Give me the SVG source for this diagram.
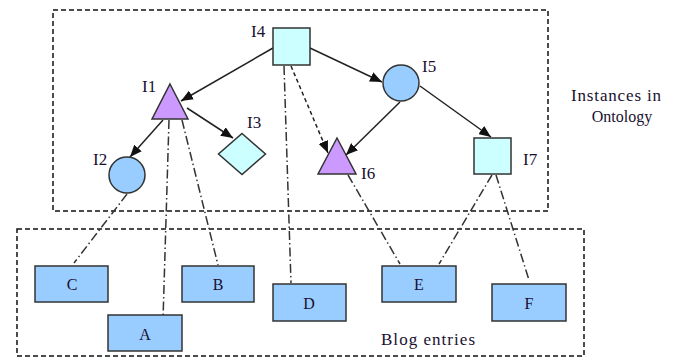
<svg xmlns="http://www.w3.org/2000/svg" width="683" height="358" viewBox="0 0 683 358">
<style>
text{font-family:"Liberation Serif",serif;fill:#1a1030}
.lbl{font-size:17px}
.box{fill:#99ccff;stroke:#333;stroke-width:1.5}
.sq{fill:#ccffff;stroke:#333;stroke-width:1.5}
.tri{fill:#cc99ff;stroke:#333;stroke-width:1.5}
.cir{fill:#99ccff;stroke:#333;stroke-width:1.5}
.group{fill:none;stroke:#111;stroke-width:1.5;stroke-dasharray:5 3}
.arrow{stroke:#222;stroke-width:1.5;fill:none;marker-end:url(#ah)}
.dash{stroke:#222;stroke-width:1.5;fill:none;stroke-dasharray:4 3;marker-end:url(#ah)}
.dd{stroke:#333;stroke-width:1.5;fill:none;stroke-dasharray:9 3 1.5 3}
.ct{font-size:16px;text-anchor:middle}
.big{font-size:17px;text-anchor:middle}
</style>
<defs>
<marker id="ah" markerWidth="12" markerHeight="10" refX="12" refY="5" orient="auto" markerUnits="userSpaceOnUse">
<path d="M0,0 L12,5 L0,10 Z" fill="#111"/>
</marker>
</defs>
<g id="ontology-frame">
<rect class="group" x="53" y="10" width="495" height="201"/>
<text class="big" x="616" y="101" textLength="90" lengthAdjust="spacing">Instances in</text>
<text class="big" x="622" y="122" style="font-size:16px">Ontology</text>
</g>
<g id="blog-frame">
<rect class="group" x="17" y="229" width="567" height="127"/>
<text class="big" x="428" y="345" textLength="94" lengthAdjust="spacing">Blog entries</text>
</g>
<g id="connectors">
<line class="arrow" x1="273" y1="48" x2="181" y2="101"/>
<line class="arrow" x1="310" y1="48" x2="382" y2="82"/>
<line class="arrow" x1="187" y1="108" x2="233" y2="138"/>
<line class="arrow" x1="163" y1="120" x2="130" y2="157"/>
<line class="arrow" x1="400" y1="102" x2="346" y2="155"/>
<line class="arrow" x1="420" y1="86" x2="491" y2="137"/>
<line class="dash" x1="291" y1="66" x2="328" y2="153"/>
<line class="dd" x1="284" y1="66" x2="291" y2="283"/>
<line class="dd" x1="169" y1="120" x2="163" y2="320"/>
<line class="dd" x1="182" y1="120" x2="218" y2="265"/>
<line class="dd" x1="127" y1="194" x2="74" y2="263"/>
<line class="dd" x1="348" y1="175" x2="400" y2="264"/>
<line class="dd" x1="492" y1="175" x2="439" y2="264"/>
<line class="dd" x1="496" y1="175" x2="529" y2="280"/>
</g>
<g id="I4">
<rect class="sq" x="273" y="28" width="37" height="37"/>
<text class="lbl" x="251" y="37">I4</text>
</g>
<g id="I1">
<polygon class="tri" points="170,84 188,119 152,119"/>
<text class="lbl" x="142" y="92">I1</text>
</g>
<g id="I2">
<circle class="cir" cx="127" cy="175" r="18"/>
<text class="lbl" x="93" y="165">I2</text>
</g>
<g id="I3">
<polygon class="sq" points="242,133.5 265.5,154 242,174.5 218.5,154"/>
<text class="lbl" x="247" y="128">I3</text>
</g>
<g id="I5">
<circle class="cir" cx="401" cy="83" r="18"/>
<text class="lbl" x="422" y="72">I5</text>
</g>
<g id="I6">
<polygon class="tri" points="337,138 356,174 318,174"/>
<text class="lbl" x="361" y="179">I6</text>
</g>
<g id="I7">
<rect class="sq" x="474" y="138" width="37" height="36"/>
<text class="lbl" x="523" y="165">I7</text>
</g>
<g id="C">
<rect class="box" x="35" y="266" width="73" height="36"/>
<text class="ct" x="72" y="290">C</text>
</g>
<g id="A">
<rect class="box" x="108" y="315" width="74" height="36"/>
<text class="ct" x="145" y="340">A</text>
</g>
<g id="B">
<rect class="box" x="182" y="266" width="72" height="36"/>
<text class="ct" x="218" y="290">B</text>
</g>
<g id="D">
<rect class="box" x="273" y="284" width="73" height="37"/>
<text class="ct" x="309" y="309">D</text>
</g>
<g id="E">
<rect class="box" x="382" y="266" width="74" height="36"/>
<text class="ct" x="419" y="290">E</text>
</g>
<g id="F">
<rect class="box" x="492" y="284" width="74" height="37"/>
<text class="ct" x="529" y="309">F</text>
</g>
</svg>
